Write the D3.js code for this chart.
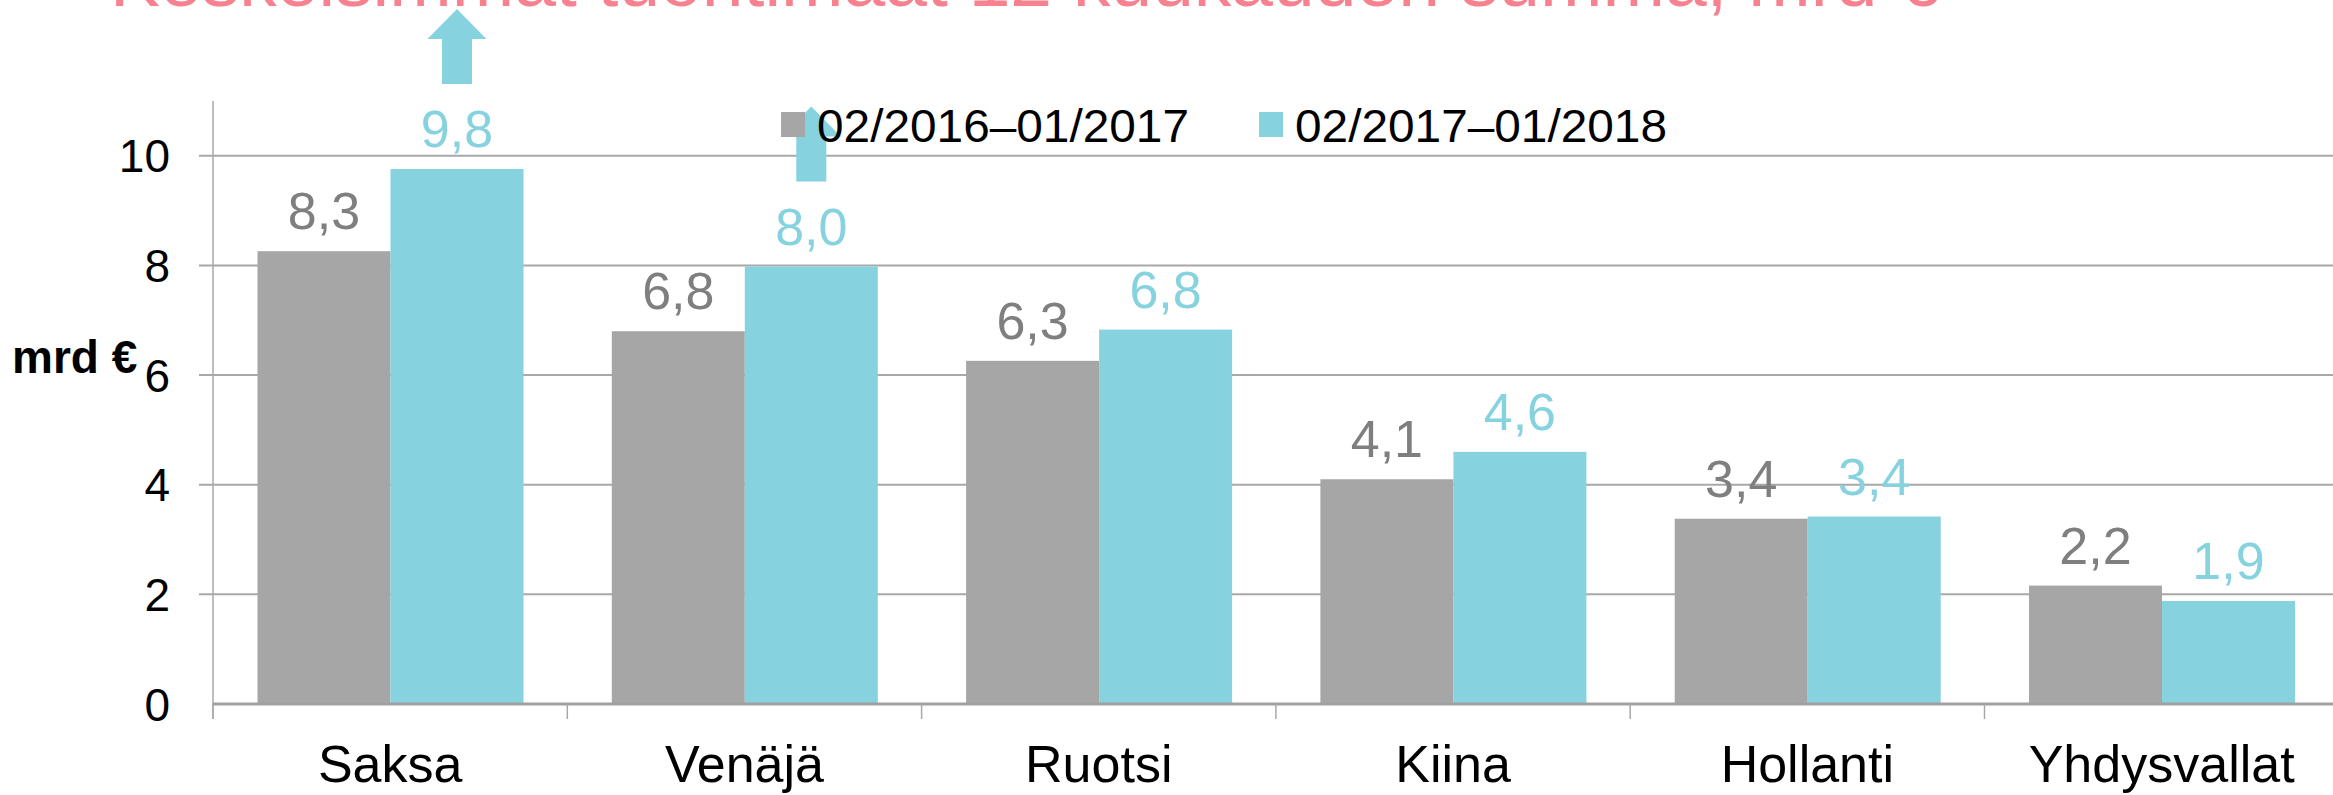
<!DOCTYPE html>
<html>
<head>
<meta charset="utf-8">
<script src="https://cdn.jsdelivr.net/npm/d3@7"></script>
<style>
  html, body { margin: 0; padding: 0; background: #fff; overflow: hidden; }
  svg { display: block; font-family: "Liberation Sans", Arial, sans-serif; }
</style>
</head>
<body>
<div id="chart"></div>
<script>
const categories = ["Saksa", "Venäjä", "Ruotsi", "Kiina", "Hollanti", "Yhdysvallat"];
const seriesNames = ["02/2016–01/2017", "02/2017–01/2018"];
const values2016 = [8.26, 6.8, 6.26, 4.1, 3.38, 2.16];
const values2017 = [9.76, 7.98, 6.83, 4.6, 3.42, 1.88];
const yTicks = [0, 2, 4, 6, 8, 10];
const arrowCats = ["Saksa", "Venäjä"];
const titleText = "Keskeisimmät tuontimaat 12 kuukauden summa, mrd €";
const yLabel = "mrd €";

const W = 2333, H = 795;
const colors = ["#a6a6a6", "#86d2df"];
const labelColors = ["#7f7f7f", "#86d2df"];

const svg = d3.select("#chart").append("svg")
  .attr("width", W)
  .attr("height", H);

const x0 = d3.scaleBand()
  .domain(categories)
  .range([213, 213 + 6 * 354.3])
  .padding(0);

const x1 = d3.scaleBand()
  .domain(seriesNames)
  .range([44.5, 310.5])
  .padding(0);

const y = d3.scaleLinear()
  .domain([0, 11])
  .range([704, 101]);

// gridlines
svg.append("g")
  .selectAll("line")
  .data(yTicks.filter(t => t > 0))
  .join("line")
  .attr("x1", 199)
  .attr("x2", W)
  .attr("y1", d => y(d))
  .attr("y2", d => y(d))
  .attr("stroke", "#a8a8a8")
  .attr("stroke-width", 2);

// y axis
svg.append("line")
  .attr("x1", 213).attr("x2", 213)
  .attr("y1", y(11)).attr("y2", 719)
  .attr("stroke", "#a8a8a8")
  .attr("stroke-width", 1.5);

svg.append("g")
  .selectAll("text")
  .data(yTicks)
  .join("text")
  .attr("x", 170)
  .attr("y", d => y(d))
  .attr("dy", "0.36em")
  .attr("text-anchor", "end")
  .attr("font-size", "46px")
  .attr("fill", "#000")
  .text(d => d);

svg.append("text")
  .attr("x", 12)
  .attr("y", 373)
  .attr("font-size", "46px")
  .attr("font-weight", "bold")
  .text(yLabel);

// bars
const rows = categories.map((c, i) => ({ cat: c, vals: [values2016[i], values2017[i]] }));
const fmt = v => d3.format(".1f")(v).replace(".", ",");

const groups = svg.append("g")
  .selectAll("g")
  .data(rows)
  .join("g")
  .attr("transform", d => `translate(${x0(d.cat)},0)`);

groups.selectAll("rect")
  .data(d => d.vals.map((v, k) => ({ key: seriesNames[k], value: v, k })))
  .join("rect")
  .attr("x", d => x1(d.key))
  .attr("y", d => y(d.value))
  .attr("width", x1.bandwidth())
  .attr("height", d => y(0) - y(d.value))
  .attr("fill", d => colors[d.k]);

groups.selectAll("text")
  .data(d => d.vals.map((v, k) => ({ key: seriesNames[k], value: v, k })))
  .join("text")
  .attr("x", d => x1(d.key) + x1.bandwidth() / 2)
  .attr("y", d => y(d.value) - 22)
  .attr("text-anchor", "middle")
  .attr("font-size", "52px")
  .attr("fill", d => labelColors[d.k])
  .text(d => fmt(d.value));

// x axis
svg.append("line")
  .attr("x1", 213).attr("x2", W)
  .attr("y1", y(0)).attr("y2", y(0))
  .attr("stroke", "#a0a0a0")
  .attr("stroke-width", 3);

svg.append("g")
  .selectAll("line")
  .data(categories)
  .join("line")
  .attr("x1", d => x0(d)).attr("x2", d => x0(d))
  .attr("y1", y(0)).attr("y2", 719)
  .attr("stroke", "#a8a8a8")
  .attr("stroke-width", 1.5);

svg.append("g")
  .selectAll("text")
  .data(categories)
  .join("text")
  .attr("x", d => x0(d) + x0.bandwidth() / 2)
  .attr("y", 782)
  .attr("text-anchor", "middle")
  .attr("font-size", "52px")
  .attr("fill", "#000")
  .text(d => d);

// up arrows above the 2017 bars
const arrow = d3.path();
svg.append("g")
  .selectAll("path")
  .data(arrowCats)
  .join("path")
  .attr("fill", colors[1])
  .attr("d", c => {
    const i = categories.indexOf(c);
    const cx = x0(c) + x1(seriesNames[1]) + x1.bandwidth() / 2;
    const bottom = y(values2017[i]) - 85;
    const top = bottom - 75;
    const p = d3.path();
    p.moveTo(cx, top);
    p.lineTo(cx + 29.5, top + 30);
    p.lineTo(cx + 15, top + 30);
    p.lineTo(cx + 15, bottom);
    p.lineTo(cx - 15, bottom);
    p.lineTo(cx - 15, top + 30);
    p.lineTo(cx - 29.5, top + 30);
    p.closePath();
    return p.toString();
  });

// legend
const legendX = [781, 1259];
const legend = svg.append("g")
  .selectAll("g")
  .data(seriesNames)
  .join("g")
  .attr("transform", (d, i) => `translate(${legendX[i]},112)`);

legend.append("rect")
  .attr("width", 24)
  .attr("height", 25)
  .attr("fill", (d, i) => colors[i]);

legend.append("text")
  .attr("x", 36)
  .attr("y", 30)
  .attr("font-size", "46px")
  .attr("fill", "#000")
  .attr("textLength", 372)
  .attr("lengthAdjust", "spacingAndGlyphs")
  .text(d => d);

// title (cut off at the top)
svg.append("text")
  .attr("x", 110)
  .attr("y", 6)
  .attr("font-size", "75px")
  .attr("fill", "#f8818f")
  .text(titleText);
</script>
</body>
</html>
